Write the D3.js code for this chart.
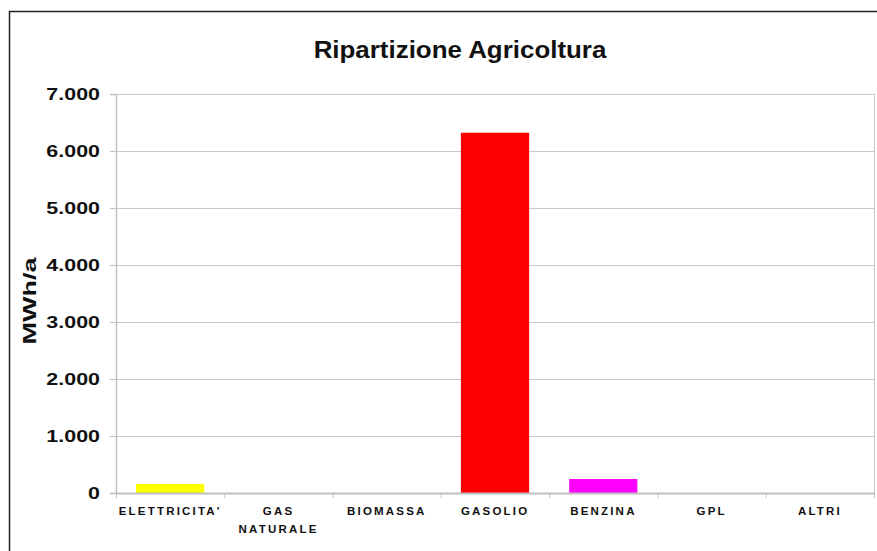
<!DOCTYPE html>
<html>
<head>
<meta charset="utf-8">
<script src="https://cdn.jsdelivr.net/npm/d3@7"></script>
<style>
  html, body { margin: 0; padding: 0; background: #fff; }
  svg { display: block; }
  text { font-family: "Liberation Sans", Arial, sans-serif; font-weight: bold; fill: #111; }
</style>
</head>
<body>
<svg id="chart" width="877" height="551"></svg>
<script>
const title = "Ripartizione Agricoltura";
const yAxisLabel = "MWh/a";
const categories = ["ELETTRICITA'", "GAS NATURALE", "BIOMASSA", "GASOLIO", "BENZINA", "GPL", "ALTRI"];
const values = [160, 0, 0, 6320, 245, 0, 0];
const colors = ["#ffff00", "#00ff00", "#996633", "#ff0000", "#ff00ff", "#00ccff", "#999999"];
const yTicks = [0, 1000, 2000, 3000, 4000, 5000, 6000, 7000];

const svg = d3.select("#chart");
const W = 877, H = 551;
const plot = { left: 116, right: 874, top: 94, bottom: 493 };

// outer frame
svg.append("rect").attr("x", 9.5).attr("y", 11.5).attr("width", W + 20).attr("height", H + 20)
  .attr("fill", "#fff").attr("stroke", "#222").attr("stroke-width", 1.5);

const y = d3.scaleLinear().domain([0, 7000]).range([plot.bottom, plot.top]);
const xCat = d3.scaleBand().domain(categories).range([plot.left, plot.right]).padding(0);
const xBar = d3.scaleBand().domain(categories).range([plot.left, plot.right])
  .paddingInner(0.37).paddingOuter(0.185);

// gridlines
svg.append("g").selectAll("line").data(yTicks.filter(d => d > 0)).join("line")
  .attr("x1", plot.left).attr("x2", plot.right)
  .attr("y1", d => y(d) + 0.5).attr("y2", d => y(d) + 0.5)
  .attr("stroke", "#c8c8c8").attr("stroke-width", 1);

// right border of plot
svg.append("line").attr("x1", plot.right + 0.5).attr("x2", plot.right + 0.5)
  .attr("y1", plot.top).attr("y2", plot.bottom).attr("stroke", "#c8c8c8");

// y axis
const yAxis = d3.axisLeft(y).tickValues(yTicks).tickSize(6).tickPadding(10)
  .tickFormat(d => d3.format(",")(d).replace(/,/g, "."));
const gy = svg.append("g").attr("transform", `translate(${plot.left},0)`).call(yAxis);
gy.select(".domain").attr("stroke", "#c0c0c0").attr("stroke-width", 1.5);
gy.selectAll(".tick line").attr("stroke", "#c0c0c0");
gy.selectAll(".tick text").each(function() {
  const t = d3.select(this);
  const xx = +t.attr("x") || -16;
  t.attr("x", null).attr("dy", null)
   .attr("transform", `translate(${xx},0) scale(1.3,1)`)
   .attr("dy", "0.36em")
   .style("font-size", "16.5px").style("font-family", '"Liberation Sans", Arial, sans-serif')
   .style("font-weight", "bold").attr("fill", "#111");
});

// bars
svg.append("g").selectAll("rect").data(categories).join("rect")
  .attr("x", d => xBar(d))
  .attr("width", xBar.bandwidth())
  .attr("y", (d, i) => y(values[i]))
  .attr("height", (d, i) => y(0) - y(values[i]))
  .attr("fill", (d, i) => colors[i]);

// x axis
const xAxis = d3.axisBottom(xCat).tickSize(0).tickFormat("");
const gx = svg.append("g").attr("transform", `translate(0,${plot.bottom})`).call(xAxis);
gx.select(".domain").attr("stroke", "#c0c0c0").attr("stroke-width", 2);
// ticks at band boundaries
const bounds = categories.map(c => xCat(c)).concat([plot.right]);
svg.append("g").selectAll("line").data(bounds).join("line")
  .attr("x1", d => d + 0.5).attr("x2", d => d + 0.5)
  .attr("y1", plot.bottom).attr("y2", plot.bottom + 5)
  .attr("stroke", "#c0c0c0").attr("stroke-width", 1);

// x labels
const xl = svg.append("g");
categories.forEach(c => {
  const cx = xCat(c) + xCat.bandwidth() / 2 - 1;
  const t = xl.append("text").attr("text-anchor", "middle")
    .style("font-size", "11.5px").style("letter-spacing", "2.2px");
  t.append("tspan").attr("x", cx + 1.1).attr("y", 515).text(c);
  if (t.node().getComputedTextLength() > xCat.bandwidth() - 4) {
    const words = c.split(" ");
    t.text("");
    words.forEach((w, i) => {
      t.append("tspan").attr("x", cx + 1.1).attr("y", 515 + i * 18).text(w);
    });
  }
});

// title
svg.append("text").attr("transform", "translate(460,58) scale(1.08,1)")
  .attr("text-anchor", "middle").style("font-size", "24px").text(title);

// y axis label
svg.append("text").attr("transform", "translate(36,301) rotate(-90) scale(1.42,1)")
  .attr("text-anchor", "middle").style("font-size", "19px").text(yAxisLabel);
</script>
</body>
</html>
